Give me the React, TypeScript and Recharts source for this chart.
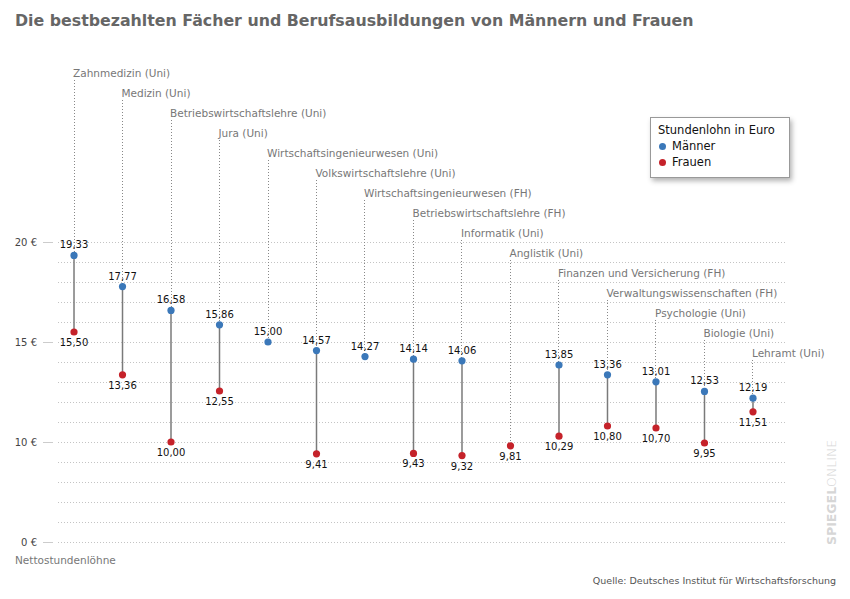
import {
  ComposedChart,
  Scatter,
  XAxis,
  YAxis,
  CartesianGrid,
  ReferenceLine,
  Legend,
} from "recharts";

const CATEGORIES = [
  "Zahnmedizin (Uni)",
  "Medizin (Uni)",
  "Betriebswirtschaftslehre (Uni)",
  "Jura (Uni)",
  "Wirtschaftsingenieurwesen (Uni)",
  "Volkswirtschaftslehre (Uni)",
  "Wirtschaftsingenieurwesen (FH)",
  "Betriebswirtschaftslehre (FH)",
  "Informatik (Uni)",
  "Anglistik (Uni)",
  "Finanzen und Versicherung (FH)",
  "Verwaltungswissenschaften (FH)",
  "Psychologie (Uni)",
  "Biologie (Uni)",
  "Lehramt (Uni)",
];

const MAENNER: (number | null)[] = [
  19.33, 17.77, 16.58, 15.86, 15.0, 14.57, 14.27, 14.14, 14.06, null, 13.85,
  13.36, 13.01, 12.53, 12.19,
];

const FRAUEN: (number | null)[] = [
  15.5, 13.36, 10.0, 12.55, null, 9.41, null, 9.43, 9.32, 9.81, 10.29, 10.8,
  10.7, 9.95, 11.51,
];

// the axis is broken below 10: the bottom line is labelled "0 €"
const Y_TICKS = [5, 10, 15, 20];
const Y_TICK_LABELS = ["0 €", "10 €", "15 €", "20 €"];
const GRID_VALUES = [5, 6, 7, 8, 9, 10, 11, 12, 13, 14, 15, 16, 17, 18, 19, 20];

const BLUE = "#3b78b9";
const RED = "#c5222a";
const FONT = "'DejaVu Sans', Verdana, sans-serif";

// staircase of category labels, in axis units
const LABEL_TOP = 28.45;
const LABEL_STEP = 1;

const rows = CATEGORIES.map((name, i) => ({
  i,
  name,
  m: MAENNER[i],
  f: FRAUEN[i],
  level: LABEL_TOP - i * LABEL_STEP,
}));

const menData = rows.filter((r) => r.m != null);
const womenData = rows.filter((r) => r.f != null);

const fmt = (v: number) => v.toFixed(2).replace(".", ",");

function MenDot(props: any) {
  const { cx, cy, payload } = props;
  return (
    <g>
      <circle cx={cx} cy={cy} r={3.6} fill={BLUE} />
      <text
        x={cx}
        y={cy - 7}
        textAnchor="middle"
        fontSize={10}
        fontFamily={FONT}
        fill="#111"
      >
        {fmt(payload.m)}
      </text>
    </g>
  );
}

function WomenDot(props: any) {
  const { cx, cy, payload } = props;
  return (
    <g>
      <circle cx={cx} cy={cy} r={3.6} fill={RED} />
      <text
        x={cx}
        y={cy + 14}
        textAnchor="middle"
        fontSize={10}
        fontFamily={FONT}
        fill="#111"
      >
        {fmt(payload.f)}
      </text>
    </g>
  );
}

function CategoryLabel(props: any) {
  const { cx, cy, payload } = props;
  return (
    <text
      x={cx - 1}
      y={cy + 4}
      fontSize={10.5}
      fontFamily={FONT}
      fill="#777"
    >
      {payload.name}
    </text>
  );
}

function YTick(props: any) {
  const { x, y, payload } = props;
  const idx = Y_TICKS.indexOf(payload.value);
  if (idx < 0) return null;
  return (
    <g>
      <line
        x1={x - 15}
        x2={x - 5}
        y1={y}
        y2={y}
        stroke="#ccc"
        shapeRendering="crispEdges"
      />
      <text
        x={x - 21}
        y={y + 4}
        textAnchor="end"
        fontSize={10}
        fontFamily={FONT}
        fill="#444"
      >
        {Y_TICK_LABELS[idx]}
      </text>
    </g>
  );
}

function LegendBox() {
  const item = (color: string, text: string) => (
    <div style={{ display: "flex", alignItems: "center", height: 16 }}>
      <span
        style={{
          width: 7,
          height: 7,
          borderRadius: "50%",
          background: color,
          marginRight: 6,
          marginLeft: 1,
        }}
      />
      {text}
    </div>
  );
  return (
    <div
      style={{
        border: "1px solid #999",
        background: "#fff",
        boxShadow: "2px 3px 5px rgba(0,0,0,0.3)",
        padding: "4px 7px 6px 7px",
        fontFamily: FONT,
        fontSize: 11.5,
        color: "#111",
        lineHeight: "16px",
        boxSizing: "border-box",
        height: 61,
      }}
    >
      <div>Stundenlohn in Euro</div>
      {item(BLUE, "Männer")}
      {item(RED, "Frauen")}
    </div>
  );
}

export default function App() {
  return (
    <div style={{ position: "absolute", left: 0, top: 0, width: 850, height: 599 }}>
      <ComposedChart
        width={850}
        height={599}
        margin={{ top: 60, right: 65, bottom: 56, left: 0 }}
      >
        <CartesianGrid
          vertical={false}
          horizontalValues={GRID_VALUES}
          stroke="#c4c4c4"
          strokeDasharray="1 2"
          shapeRendering="crispEdges"
        />
        <XAxis
          type="number"
          dataKey="i"
          domain={[-0.33, 14.66]}
          hide
        />
        <YAxis
          type="number"
          domain={[4.95, 29.1]}
          ticks={Y_TICKS}
          interval={0}
          width={58}
          tickSize={0}
          tickMargin={0}
          tickLine={false}
          axisLine={false}
          tick={<YTick />}
          allowDataOverflow
        />
        {rows.map((r) => (
          <ReferenceLine
            key={"lead" + r.i}
            segment={[
              { x: r.i, y: r.level - 0.35 },
              { x: r.i, y: (r.m ?? r.f) as number },
            ]}
            stroke="#888"
            strokeDasharray="1 2"
            shapeRendering="crispEdges"
          />
        ))}
        {rows
          .filter((r) => r.m != null && r.f != null)
          .map((r) => (
            <ReferenceLine
              key={"conn" + r.i}
              segment={[
                { x: r.i, y: r.f as number },
                { x: r.i, y: r.m as number },
              ]}
              stroke="#7a7a7a"
              strokeWidth={1.5}
            />
          ))}
        <Scatter
          name="labels"
          data={rows}
          dataKey="level"
          shape={<CategoryLabel />}
          legendType="none"
          isAnimationActive={false}
        />
        <Scatter
          name="Männer"
          data={menData}
          dataKey="m"
          shape={<MenDot />}
          isAnimationActive={false}
        />
        <Scatter
          name="Frauen"
          data={womenData}
          dataKey="f"
          shape={<WomenDot />}
          isAnimationActive={false}
        />
        <Legend
          layout="horizontal"
          verticalAlign="middle"
          align="center"
          wrapperStyle={{ left: 650, top: 117, width: 140, height: 61 }}
          content={() => <LegendBox />}
        />
      </ComposedChart>
      <svg
        width={850}
        height={599}
        style={{ position: "absolute", left: 0, top: 0, pointerEvents: "none" }}
      >
        <text
          x={15}
          y={26}
          fontSize={15.8}
          fontWeight="bold"
          fontFamily={FONT}
          fill="#666"
        >
          Die bestbezahlten Fächer und Berufsausbildungen von Männern und Frauen
        </text>
        <text x={15} y={564} fontSize={10.5} fontFamily={FONT} fill="#777">
          Nettostundenlöhne
        </text>
        <text
          x={836}
          y={584}
          textAnchor="end"
          fontSize={9.5}
          fontFamily={FONT}
          fill="#555"
        >
          Quelle: Deutsches Institut für Wirtschaftsforschung
        </text>
        <text
          transform="rotate(-90 836 545)"
          x={836}
          y={545}
          fontSize={12.5}
          fontFamily={FONT}
          fill="#d6d6d6"
        >
          <tspan fontWeight="bold">SPIEGEL</tspan>
          <tspan fontWeight="200">ONLINE</tspan>
        </text>
      </svg>
    </div>
  );
}
